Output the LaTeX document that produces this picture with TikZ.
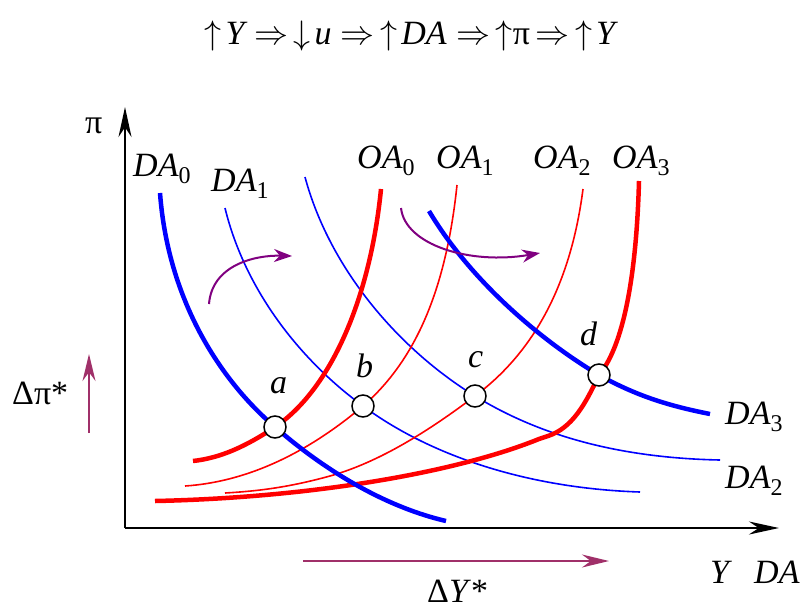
\RequirePackage{fix-cm}
\documentclass[tikz,border=0pt]{standalone}
\usepackage{fontspec}
\setmainfont{Liberation Serif}
\usetikzlibrary{arrows.meta}
\definecolor{shiftc}{rgb}{0.5,0,0.5}
\definecolor{deltac}{RGB}{160,48,105}
\newcommand{\subidx}[1]{\raisebox{-7pt}{\fontsize{24}{24}\selectfont #1}}
\begin{document}
\begin{tikzpicture}[x=1pt,y=-1pt,
  font=\fontsize{34}{38}\selectfont,
  thickb/.style={blue,line width=4.5pt},
  thinb/.style={blue,line width=1.6pt},
  thickr/.style={red,line width=4.5pt},
  thinr/.style={red,line width=1.6pt},
  eqpt/.style={circle,draw=black,fill=white,line width=1.5pt,minimum size=22pt,inner sep=0pt},
  lab/.style={inner sep=0pt,anchor=base west},
  axis/.style={line width=2pt,-{Stealth[length=30pt,width=13pt]}},
  shiftarr/.style={shiftc,line width=2pt,-{Stealth[length=18pt,width=13pt]}},
  deltaarr/.style={deltac,line width=2pt,-{Stealth[length=27pt,width=13pt]}}]
\useasboundingbox (0,0) rectangle (802,608);
% title
\node[inner sep=0pt,anchor=base] (title) at (410,44) {$\uparrow\!\mathit{Y}\Rightarrow\,\downarrow\!\mathit{u}\Rightarrow\,\uparrow\!\mathit{DA}\Rightarrow\,\uparrow$π$\,\Rightarrow\,\uparrow\!\mathit{Y}$};
% axes
\coordinate (O) at (125,528);
\coordinate (ytip) at (125,107);
\coordinate (xtip) at (779,528);
\draw[axis] (O) -- (ytip);
\draw[axis] (O) -- (xtip);
\node[lab] (lpi) at (85,133) {π};
\node[lab] (lY) at (710,583) {\textit{Y}};
\node[lab] (lDA) at (754,583) {\textit{DA}};
% curves
\draw[thinb] (225,208) .. controls (245,290) and (300,360) .. (363,406) .. controls (425,452) and (520,488) .. (640,492);
\draw[thinb] (305,177) .. controls (330,270) and (400,350) .. (475,396) .. controls (540,436) and (620,458) .. (720,460);
\draw[thinr] (457,185) .. controls (445,300) and (410,365) .. (363,406) .. controls (305,455) and (245,482) .. (185,486);
\draw[thinr] (583,189) .. controls (570,290) and (530,355) .. (475,396) .. controls (430,430) and (380,462) .. (330,476) .. controls (290,487) and (260,491) .. (225,493);
\draw[thickr] (381,189) .. controls (370,300) and (330,390) .. (275,427) .. controls (245,447) and (220,458) .. (193,461);
\draw[thickr] (639,181) .. controls (636,290) and (620,350) .. (599,375) .. controls (585,405) and (572,428) .. (548,436) -- (539,439) .. controls (450,475) and (300,498) .. (155,501);
\draw[thickb] (160,193) .. controls (168,300) and (220,380) .. (275,427) .. controls (330,475) and (390,508) .. (446,521);
\draw[thickb] (429,211) .. controls (470,280) and (540,340) .. (599,375) .. controls (640,398) and (675,407) .. (710,414);
% curve labels
\node[lab] (lDA0) at (133,176) {\textit{DA}\subidx{0}};
\node[lab] (lDA1) at (211,191) {\textit{DA}\subidx{1}};
\node[lab] (lOA0) at (357,168) {\textit{OA}\subidx{0}};
\node[lab] (lOA1) at (436,168) {\textit{OA}\subidx{1}};
\node[lab] (lOA2) at (533,168) {\textit{OA}\subidx{2}};
\node[lab] (lOA3) at (612,168) {\textit{OA}\subidx{3}};
\node[lab] (lDA3) at (725,424) {\textit{DA}\subidx{3}};
\node[lab] (lDA2) at (725,488) {\textit{DA}\subidx{2}};
% equilibrium points
\node[eqpt] (a) at (275,427) {};
\node[eqpt] (b) at (363,406) {};
\node[eqpt] (c) at (475,396) {};
\node[eqpt] (d) at (599,375) {};
\node[lab] (la) at (270,393) {\textit{a}};
\node[lab] (lb) at (356,377) {\textit{b}};
\node[lab] (lc) at (468,367) {\textit{c}};
\node[lab] (ld) at (580,345) {\textit{d}};
% shift arrows
\coordinate (s1a) at (209,304);
\coordinate (s1b) at (292,256);
\coordinate (s2a) at (401,208);
\coordinate (s2b) at (540,253);
\draw[shiftarr] (s1a) .. controls (212,265) and (255,255) .. (s1b);
\draw[shiftarr] (s2a) .. controls (405,245) and (470,265) .. (s2b);
% delta arrows
\coordinate (dpa) at (89,433);
\coordinate (dpb) at (89,354);
\coordinate (dya) at (303,561);
\coordinate (dyb) at (609,561);
\draw[deltaarr] (dpa) -- (dpb);
\draw[deltaarr] (dya) -- (dyb);
\node[lab] (ldp) at (12,404) {Δπ*};
\node[lab] (ldy) at (427,602) {Δ\textit{Y}*};
\end{tikzpicture}
\end{document}
